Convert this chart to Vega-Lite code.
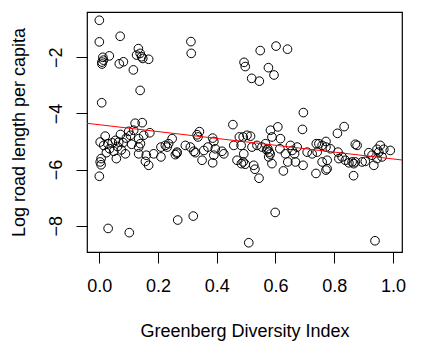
{
  "$schema": "https://vega.github.io/schema/vega-lite/v6.json",
  "autosize": "none",
  "width": 315,
  "height": 240,
  "padding": {"left": 87, "top": 12, "right": 22, "bottom": 102},
  "background": "white",
  "config": {
    "view": {"stroke": "black", "strokeWidth": 1.2},
    "font": "Liberation Sans",
    "axis": {
      "grid": false,
      "domain": false,
      "ticks": true,
      "tickColor": "black",
      "tickSize": 11,
      "tickWidth": 1,
      "labelFont": "Liberation Sans",
      "labelFontSize": 18,
      "labelColor": "black",
      "titleFont": "Liberation Sans",
      "titleFontSize": 18,
      "titleFontWeight": "normal",
      "titleColor": "black"
    }
  },
  "datasets": {
    "pts": [
      {"x":0.000,"y":-0.68},{"x":0.000,"y":-1.45},{"x":0.071,"y":-1.25},{"x":0.012,"y":-2.00},{"x":0.034,"y":-1.95},
      {"x":0.009,"y":-2.17},{"x":0.014,"y":-2.10},{"x":0.009,"y":-2.24},{"x":0.068,"y":-2.23},{"x":0.082,"y":-2.16},
      {"x":0.116,"y":-2.45},{"x":0.133,"y":-1.69},{"x":0.127,"y":-1.92},{"x":0.139,"y":-1.86},{"x":0.144,"y":-1.98},
      {"x":0.148,"y":-2.04},{"x":0.168,"y":-2.07},{"x":0.139,"y":-3.18},{"x":0.008,"y":-3.62},{"x":0.312,"y":-1.44},
      {"x":0.313,"y":-1.86},{"x":0.493,"y":-2.18},{"x":0.497,"y":-2.33},{"x":0.519,"y":-2.75},{"x":0.545,"y":-2.85},
      {"x":0.548,"y":-1.76},{"x":0.602,"y":-1.60},{"x":0.641,"y":-1.71},{"x":0.576,"y":-2.37},{"x":0.595,"y":-2.63},
      {"x":0.695,"y":-3.97},
      {"x":0.030,"y":-8.10},{"x":0.102,"y":-8.25},{"x":0.267,"y":-7.80},{"x":0.320,"y":-7.66},{"x":0.509,"y":-8.61},
      {"x":0.599,"y":-7.53},{"x":0.939,"y":-8.54},{"x":0.000,"y":-6.24},{"x":0.544,"y":-6.31},{"x":0.627,"y":-6.05},
      {"x":0.738,"y":-6.14},{"x":0.866,"y":-6.22},{"x":0.772,"y":-6.02},{"x":0.692,"y":-4.57},{"x":0.834,"y":-4.47},
      {"x":0.811,"y":-4.71},
      {"x":0.146,"y":-4.33},{"x":0.122,"y":-4.35},{"x":0.117,"y":-4.60},{"x":0.100,"y":-4.64},{"x":0.072,"y":-4.75},
      {"x":0.020,"y":-4.81},{"x":0.151,"y":-4.78},{"x":0.172,"y":-4.69},{"x":0.003,"y":-5.02},{"x":0.015,"y":-5.14},
      {"x":0.029,"y":-5.08},{"x":0.055,"y":-4.96},{"x":0.066,"y":-5.02},{"x":0.081,"y":-5.04},{"x":0.035,"y":-5.26},
      {"x":0.049,"y":-5.35},{"x":0.089,"y":-5.44},{"x":0.058,"y":-5.61},{"x":0.006,"y":-5.61},{"x":0.003,"y":-5.73},
      {"x":0.006,"y":-5.83},{"x":0.134,"y":-4.90},{"x":0.140,"y":-5.08},{"x":0.134,"y":-5.20},{"x":0.134,"y":-5.44},
      {"x":0.160,"y":-5.49},{"x":0.157,"y":-5.71},{"x":0.168,"y":-5.85},{"x":0.185,"y":-5.44},{"x":0.210,"y":-5.20},
      {"x":0.210,"y":-5.55},{"x":0.225,"y":-5.14},{"x":0.106,"y":-4.78},{"x":0.044,"y":-5.05},{"x":0.092,"y":-4.88},
      {"x":0.110,"y":-5.10},{"x":0.075,"y":-5.30},{"x":0.024,"y":-5.40},{"x":0.062,"y":-5.18},
      {"x":0.455,"y":-4.40},{"x":0.333,"y":-4.76},{"x":0.336,"y":-4.84},{"x":0.386,"y":-4.88},{"x":0.390,"y":-5.00},
      {"x":0.248,"y":-4.90},{"x":0.236,"y":-5.08},{"x":0.231,"y":-5.20},{"x":0.293,"y":-5.14},{"x":0.310,"y":-5.20},
      {"x":0.265,"y":-5.38},{"x":0.259,"y":-5.47},{"x":0.322,"y":-5.35},{"x":0.327,"y":-5.40},{"x":0.356,"y":-5.32},
      {"x":0.370,"y":-5.20},{"x":0.395,"y":-5.26},{"x":0.418,"y":-5.35},{"x":0.424,"y":-5.44},{"x":0.390,"y":-5.49},
      {"x":0.350,"y":-5.67},{"x":0.386,"y":-5.76},{"x":0.458,"y":-5.14},{"x":0.469,"y":-5.67},{"x":0.484,"y":-5.79},
      {"x":0.477,"y":-4.84},{"x":0.341,"y":-4.65},{"x":0.264,"y":-5.42},
      {"x":0.608,"y":-4.48},{"x":0.583,"y":-4.60},{"x":0.588,"y":-4.84},{"x":0.503,"y":-4.78},{"x":0.515,"y":-4.81},
      {"x":0.490,"y":-4.84},{"x":0.483,"y":-5.14},{"x":0.492,"y":-5.44},{"x":0.490,"y":-5.73},{"x":0.497,"y":-5.81},
      {"x":0.526,"y":-5.85},{"x":0.520,"y":-5.20},{"x":0.537,"y":-5.14},{"x":0.554,"y":-5.20},{"x":0.566,"y":-5.08},
      {"x":0.574,"y":-5.26},{"x":0.579,"y":-5.38},{"x":0.577,"y":-5.55},{"x":0.588,"y":-5.79},{"x":0.617,"y":-4.90},
      {"x":0.615,"y":-5.26},{"x":0.634,"y":-5.44},{"x":0.651,"y":-5.14},{"x":0.657,"y":-5.32},{"x":0.674,"y":-5.20},
      {"x":0.665,"y":-5.44},{"x":0.642,"y":-5.73},{"x":0.668,"y":-5.73},{"x":0.694,"y":-5.85},{"x":0.708,"y":-5.38},
      {"x":0.725,"y":-5.44},{"x":0.739,"y":-5.08},{"x":0.570,"y":-5.30},{"x":0.582,"y":-5.45},{"x":0.530,"y":-5.99},
      {"x":0.748,"y":-5.08},{"x":0.759,"y":-5.14},{"x":0.772,"y":-5.00},{"x":0.772,"y":-5.20},{"x":0.787,"y":-5.26},
      {"x":0.742,"y":-5.38},{"x":0.759,"y":-5.73},{"x":0.776,"y":-5.67},{"x":0.776,"y":-5.97},{"x":0.813,"y":-5.38},
      {"x":0.827,"y":-5.55},{"x":0.816,"y":-5.61},{"x":0.872,"y":-5.10},{"x":0.878,"y":-5.14},{"x":0.861,"y":-5.73},
      {"x":0.872,"y":-5.73},{"x":0.867,"y":-5.79},{"x":0.895,"y":-5.73},{"x":0.918,"y":-5.40},{"x":0.929,"y":-5.49},
      {"x":0.935,"y":-5.85},{"x":0.946,"y":-5.28},{"x":0.952,"y":-5.38},{"x":0.957,"y":-5.14},{"x":0.969,"y":-5.28},
      {"x":0.991,"y":-5.32},{"x":0.963,"y":-5.55},{"x":0.946,"y":-5.61},{"x":0.906,"y":-5.71},{"x":0.838,"y":-5.67},
      {"x":0.850,"y":-5.76}
    ],
    "fit": [
      {"x": -0.05, "y": -4.343},
      {"x": 1.05, "y": -5.684}
    ]
  },
  "layer": [
    {
      "data": {"name": "pts"},
      "mark": {"type": "point", "shape": "circle", "filled": false, "stroke": "black", "strokeWidth": 1, "size": 75, "opacity": 1},
      "encoding": {
        "x": {
          "field": "x", "type": "quantitative",
          "scale": {"domain": [-0.042, 1.031], "nice": false, "zero": false},
          "axis": {"values": [0, 0.2, 0.4, 0.6, 0.8, 1.0], "format": ".1f", "title": "Greenberg Diversity Index", "labelPadding": 14, "titlePadding": 27}
        },
        "y": {
          "field": "y", "type": "quantitative",
          "scale": {"domain": [-8.94, -0.385], "nice": false, "zero": false},
          "axis": {"values": [-8, -6, -4, -2], "format": "d", "title": "Log road length per capita", "labelAngle": -90, "labelAlign": "center", "labelBaseline": "bottom", "labelPadding": 11, "titlePadding": 19}
        }
      }
    },
    {
      "data": {"name": "fit"},
      "mark": {"type": "line", "color": "red", "strokeWidth": 1, "clip": true},
      "encoding": {
        "x": {"field": "x", "type": "quantitative"},
        "y": {"field": "y", "type": "quantitative"}
      }
    }
  ]
}
